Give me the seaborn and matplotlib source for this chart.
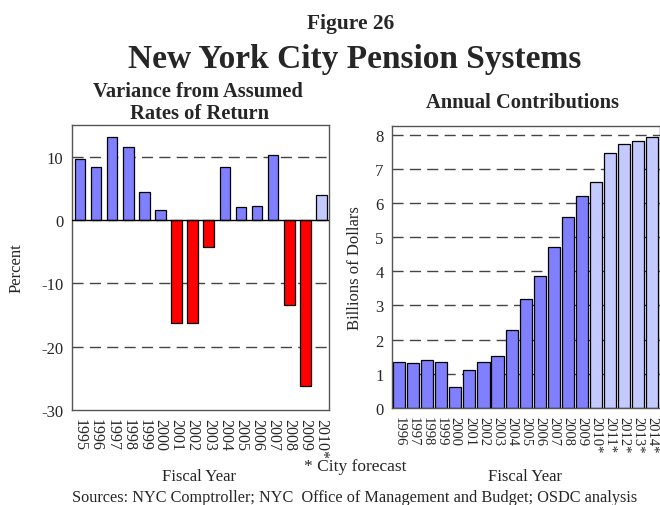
import numpy as np
import pandas as pd
import matplotlib
matplotlib.use("Agg")
import matplotlib.pyplot as plt
import seaborn as sns

# --------------------------------------------------------
# data
# --------------------------------------------------------
variance_years = ["1995", "1996", "1997", "1998", "1999", "2000", "2001", "2002",
                  "2003", "2004", "2005", "2006", "2007", "2008", "2009", "2010*"]
variance_pct = [9.7, 8.3, 13.1, 11.6, 4.4, 1.5, -16.2, -16.3,
                -4.2, 8.4, 2.0, 2.2, 10.2, -13.4, -26.3, 4.0]

contrib_years = ["1996", "1997", "1998", "1999", "2000", "2001", "2002", "2003",
                 "2004", "2005", "2006", "2007", "2008", "2009",
                 "2010*", "2011*", "2012*", "2013*", "2014*"]
contrib_bn = [1.34, 1.30, 1.39, 1.33, 0.61, 1.11, 1.34, 1.53,
              2.27, 3.20, 3.85, 4.70, 5.58, 6.22,
              6.61, 7.46, 7.72, 7.82, 7.93]

BLUE = "#8080FF"
LIGHT = "#C2CAFF"
RED = "#FF0000"
palette = {"actual": BLUE, "forecast": LIGHT, "negative": RED}
DASH = (0, (8, 4.5))


def kind_of(year, val):
    if year.endswith("*"):
        return "forecast"
    return "negative" if val < 0 else "actual"


df_var = pd.DataFrame({"year": variance_years, "value": variance_pct})
df_var["kind"] = [kind_of(y, v) for y, v in zip(df_var.year, df_var.value)]
df_con = pd.DataFrame({"year": contrib_years, "value": contrib_bn})
df_con["kind"] = [kind_of(y, v) for y, v in zip(df_con.year, df_con.value)]

sns.set_style("white")
plt.rcParams["font.family"] = ["Liberation Serif", "DejaVu Serif"]

fig = plt.figure(figsize=(6.6, 5.06), dpi=100)


def style_axes(ax, xsize):
    ax.set_xlabel("")
    ax.tick_params(axis="both", direction="out", length=4, width=0.8, pad=2,
                   color="#444444", labelsize=12)
    ax.tick_params(axis="x", labelsize=xsize)
    for s in ax.spines.values():
        s.set_color("#555555")
        s.set_linewidth(1.0)


# --------------------------------------------------------
# left panel: variance from assumed rates
# --------------------------------------------------------
ax1 = fig.add_axes([0.109, 0.188, 0.389, 0.563])
for y in [10, -10, -20]:
    ax1.axhline(y, color="#444444", lw=1.0, ls=DASH, zorder=0)
sns.barplot(data=df_var, x="year", y="value", hue="kind", palette=palette,
            saturation=1, dodge=False, width=0.66, edgecolor="black",
            linewidth=0.9, legend=False, ax=ax1, zorder=2)
ax1.axhline(0, color="black", lw=1.0, zorder=3)
ax1.set_ylim(-30, 15)
ax1.set_xlim(-0.5, 15.45)
ax1.set_yticks([10, 0, -10, -20, -30])
ax1.set_yticklabels(["10", "0", "-10", "-20", "-30"])
ax1.set_xticks(range(len(variance_years)))
ax1.set_xticklabels(variance_years, rotation=-90)
style_axes(ax1, 11.5)
ax1.set_ylabel("Percent", fontsize=12, labelpad=12)

# --------------------------------------------------------
# right panel: annual contributions
# --------------------------------------------------------
ax2 = fig.add_axes([0.594, 0.192, 0.406, 0.557])
for y in range(1, 9):
    ax2.axhline(y, color="#444444", lw=1.0, ls=DASH, zorder=0)
sns.barplot(data=df_con, x="year", y="value", hue="kind", palette=palette,
            saturation=1, dodge=False, width=0.86, edgecolor="black",
            linewidth=0.9, legend=False, ax=ax2, zorder=2)
ax2.set_ylim(0, 8.26)
ax2.set_xlim(-0.5, 18.55)
ax2.set_yticks(range(0, 9))
ax2.set_yticklabels([str(i) for i in range(0, 9)])
ax2.set_xticks(range(len(contrib_years)))
ax2.set_xticklabels(contrib_years, rotation=-90)
style_axes(ax2, 10.5)
ax2.set_ylabel("Billions of Dollars", fontsize=12, labelpad=9)

# --------------------------------------------------------
# titles and notes
# --------------------------------------------------------
fig.text(0.532, 0.943, "Figure 26", ha="center", va="baseline",
         fontsize=15.5, fontweight="bold")
fig.text(0.538, 0.866, "New York City Pension Systems", ha="center", va="baseline",
         fontsize=24, fontweight="bold")
fig.text(0.300, 0.808, "Variance from Assumed", ha="center", va="baseline",
         fontsize=14.8, fontweight="bold")
fig.text(0.302, 0.765, "Rates of Return", ha="center", va="baseline",
         fontsize=14.8, fontweight="bold")
fig.text(0.792, 0.787, "Annual Contributions", ha="center", va="baseline",
         fontsize=14.8, fontweight="bold")
fig.text(0.302, 0.049, "Fiscal Year", ha="center", va="baseline", fontsize=12)
fig.text(0.795, 0.049, "Fiscal Year", ha="center", va="baseline", fontsize=12)
fig.text(0.539, 0.069, "* City forecast", ha="center", va="baseline", fontsize=12.5)
fig.text(0.537, 0.008, "Sources: NYC Comptroller; NYC  Office of Management and Budget; OSDC analysis",
         ha="center", va="baseline", fontsize=11.7)

fig.savefig("out.png", dpi=100)
plt.close(fig)
